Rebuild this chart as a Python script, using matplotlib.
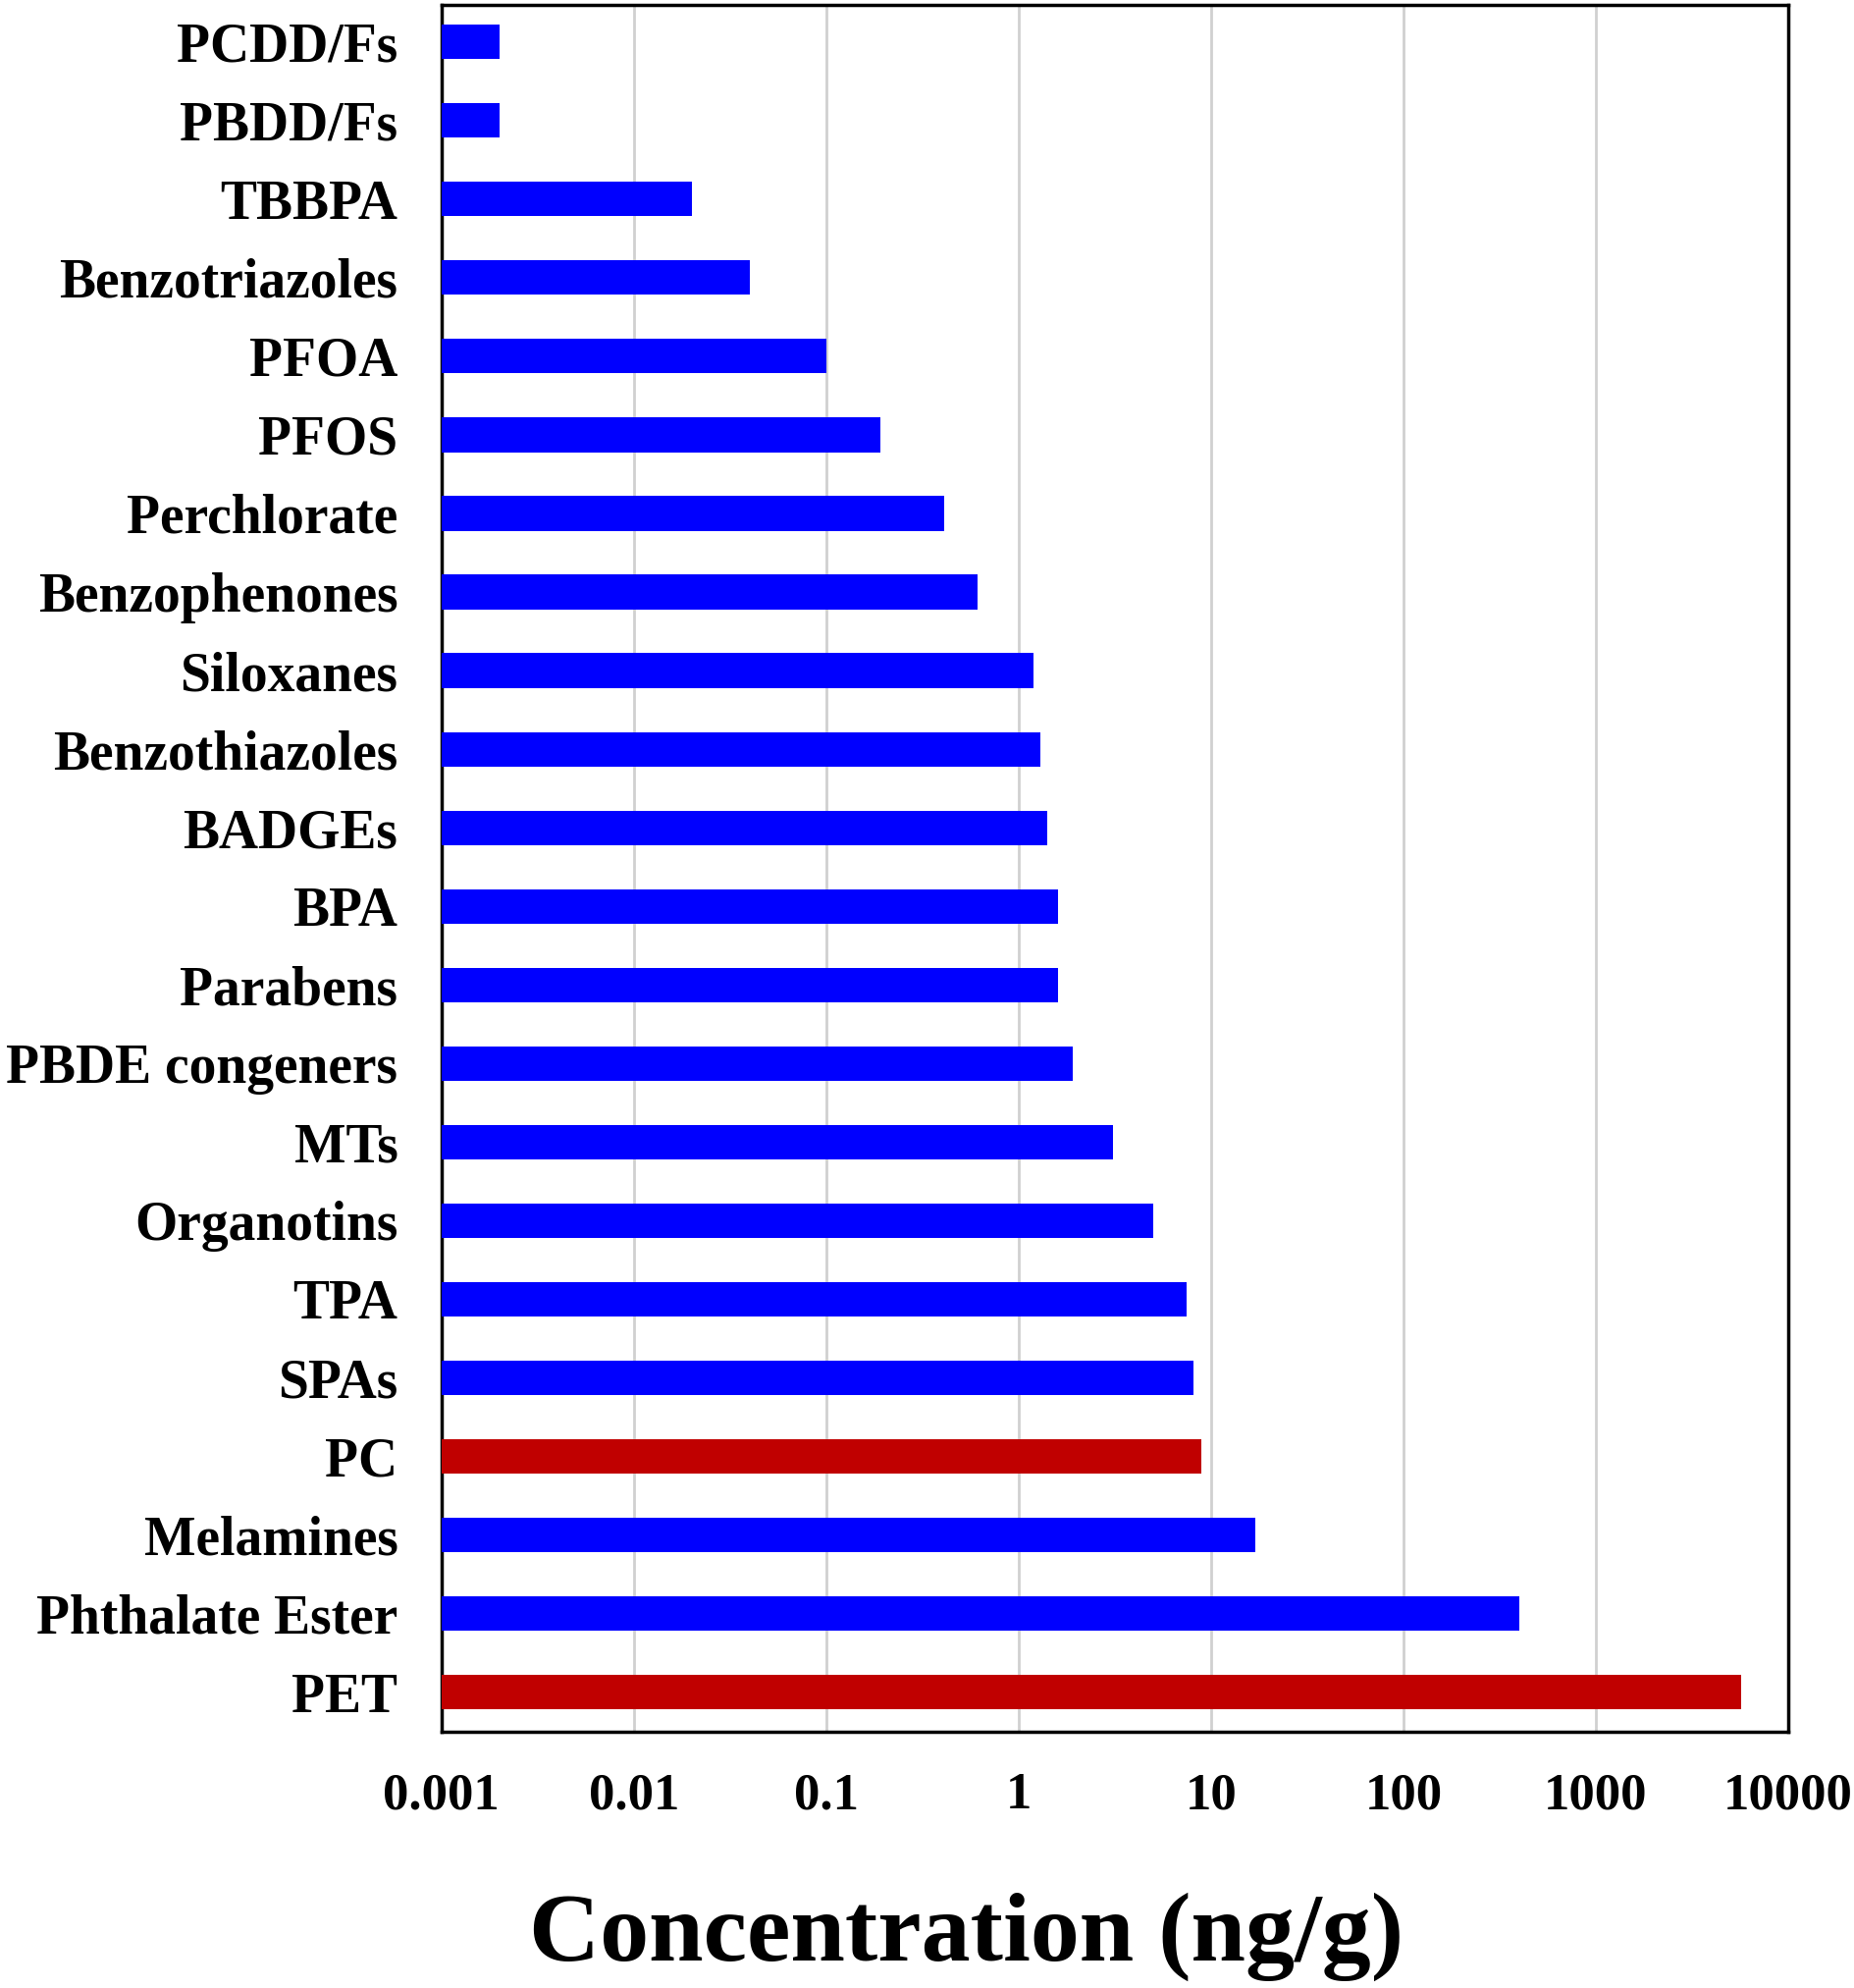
import numpy as np
import matplotlib
matplotlib.use("Agg")
import matplotlib.pyplot as plt

# Categories listed bottom to top
compounds = ["PET", "Phthalate Ester", "Melamines", "PC", "SPAs", "TPA", "Organotins",
             "MTs", "PBDE congeners", "Parabens", "BPA", "BADGEs", "Benzothiazoles",
             "Siloxanes", "Benzophenones", "Perchlorate", "PFOS", "PFOA",
             "Benzotriazoles", "TBBPA", "PBDD/Fs", "PCDD/Fs"]
conc = [5700, 400, 17, 8.9, 8.1, 7.5, 5.0,
        3.1, 1.9, 1.6, 1.6, 1.4, 1.3,
        1.2, 0.61, 0.41, 0.19, 0.1,
        0.04, 0.02, 0.002, 0.002]
polymers = ["PET", "PC"]
tick_vals = [0.001, 0.01, 0.1, 1, 10, 100, 1000, 10000]
tick_labels = ["0.001", "0.01", "0.1", "1", "10", "100", "1000", "10000"]

plt.rcParams['font.family'] = ['Liberation Serif', 'DejaVu Serif']
plt.rcParams['font.weight'] = 'bold'

fig = plt.figure(figsize=(18.9, 20.25), dpi=100)
ax = fig.add_axes([0.238, 0.129, 0.726, 0.8685])

colors = ['#C00000' if c in polymers else '#0000FF' for c in compounds]
y = np.arange(len(compounds))
ax.barh(y, conc, height=0.44, color=colors, zorder=3)

ax.set_xscale('log')
ax.set_xlim(0.001, 10000)
ax.set_ylim(-0.5, len(compounds) - 0.53)
ax.set_xticks(tick_vals)
ax.set_xticklabels(tick_labels)
ax.minorticks_off()
ax.set_yticks(y)
ax.set_yticklabels(compounds)

ax.tick_params(axis='x', length=0, pad=30, labelsize=38)
ax.tick_params(axis='y', length=0, pad=32, labelsize=40)
ax.grid(axis='x', color='#d0d0d0', linewidth=2, zorder=0)

for s in ax.spines.values():
    s.set_linewidth(2.5)
    s.set_color('black')

ax.set_xlabel("Concentration (ng/g)", fontsize=72, fontweight='bold', va='center')
ax.xaxis.set_label_coords(0.39, -0.119)

fig.savefig("out.png", dpi=100)
